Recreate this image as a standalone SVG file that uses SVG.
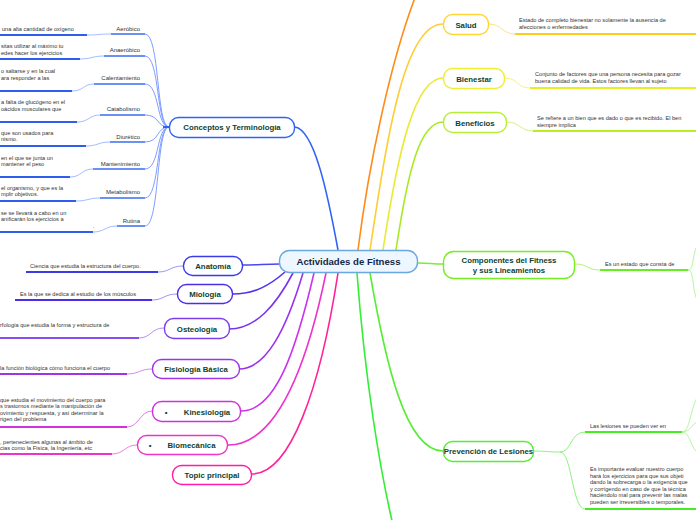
<svg xmlns="http://www.w3.org/2000/svg" width="696" height="520" viewBox="0 0 696 520">
<style>
text{font-family:"Liberation Sans",Arial,sans-serif}
.d{font-size:5.6px;fill:#333}
.s{font-size:6px;fill:#333}
.n{font-size:7.8px;font-weight:bold;fill:#0e3f30;text-anchor:middle}
.box{fill:#fff;stroke-width:1.4}
.c{fill:none;stroke-width:1.6}
.t{fill:none;stroke-width:0.9}
.u{fill:none;stroke-width:2}
.su{fill:none;stroke-width:1.5}
</style>
<rect width="696" height="520" fill="#fff"/>
<g id="connectors">
<path class="c" stroke="#2f63f5" d="M338,250 C327,190 314,130 295,127"/>
<path class="c" stroke="#ff8c1a" d="M358,250 C368,170 390,60 418,-10"/>
<path class="c" stroke="#ffcc33" d="M370,250 C388,130 405,24 443,24"/>
<path class="c" stroke="#e8ea33" d="M383,250 C398,150 415,78 443,78"/>
<path class="c" stroke="#a8ea22" d="M396,250 C408,170 420,122 443,122"/>
<path class="c" stroke="#7aee33" d="M418,263 C428,263 433,264 443,264"/>
<path class="c" stroke="#55ee33" d="M370,273 C385,360 405,451 443,451"/>
<path class="c" stroke="#33ee33" d="M357,273 C365,380 380,470 393,525"/>
<path class="c" stroke="#4848f0" d="M280,264 C265,264 258,265 243,265"/>
<path class="c" stroke="#5533ee" d="M285,272 C270,285 255,294 233,294"/>
<path class="c" stroke="#7a33ee" d="M293,273 C276,305 256,329 229,329"/>
<path class="c" stroke="#9b33ee" d="M303,273 C286,330 266,369 239,369"/>
<path class="c" stroke="#cc33ee" d="M314,273 C296,350 276,411 241,411"/>
<path class="c" stroke="#ee33cc" d="M326,273 C306,370 276,445 228,445"/>
<path class="c" stroke="#ff2299" d="M338,273 C320,390 290,474 252,474"/>
<g stroke="#6f92ff" class="t">
<path d="M145,34 C160,34 156,127 169,127"/>
<path d="M145,56 C160,56 156,127 169,127"/>
<path d="M145,84 C160,84 156,127 169,127"/>
<path d="M145,115 C160,115 156,127 169,127"/>
<path d="M145,142 C160,142 156,127 169,127"/>
<path d="M145,169 C160,169 156,127 169,127"/>
<path d="M145,198 C160,198 156,127 169,127"/>
<path d="M145,226 C160,226 156,127 169,127"/>
</g>
<path d="M163,127 L169,127" stroke="#2f63f5" stroke-width="2"/>
<g stroke="#9ab4ff" class="t">
<path d="M87,35 C99,35 99,34 111,34"/>
<path d="M80,59 C92,59 92,56 104,56"/>
<path d="M72,91 C84,91 83,84 94,84"/>
<path d="M77,122 C89,122 89,115 100,115"/>
<path d="M86,146 C98,146 98,142 110,142"/>
<path d="M70,177 C82,177 81,169 93,169"/>
<path d="M76,201 C88,201 88,198 100,198"/>
<path d="M93,232 C105,232 105,226 117,226"/>
</g>
<path class="t" stroke="#8d8df5" d="M158,272 C170,272 170,266 183,266"/>
<path class="t" stroke="#9a85f5" d="M152,300 C164,300 164,294 177,294"/>
<path class="t" stroke="#b080f5" d="M139,338 C151,338 151,328 164,328"/>
<path class="t" stroke="#c880f0" d="M127,374 C139,374 140,369 152,369"/>
<path class="t" stroke="#e070e8" d="M127,427 C139,427 140,411 152,411"/>
<path class="t" stroke="#f070d8" d="M112,454 C124,454 125,445 137,445"/>
<path class="t" stroke="#ffe070" d="M489,24 C502,24 502,34 515,34"/>
<path class="t" stroke="#f0f070" d="M505,78 C518,78 517,88 530,88"/>
<path class="t" stroke="#cdf070" d="M507,122 C520,122 520,131 533,131"/>
<path class="t" stroke="#a8f070" d="M575,264 C588,264 587,270 600,270"/>
<path class="t" stroke="#a8f590" d="M688,270 C694,270 692,256 697,246"/>
<path class="t" stroke="#a8f590" d="M688,270 C694,270 692,288 697,300"/>
<path class="t" stroke="#80f070" d="M533,451 C546,451 548,452 560,452 C572,452 570,432 585,432"/>
<path class="t" stroke="#80f070" d="M560,452 C572,452 572,509 585,509"/>
<path class="t" stroke="#a8f590" d="M682,432 C690,432 690,410 697,398"/>
<path class="t" stroke="#a8f590" d="M682,432 C690,432 691,425 697,422"/>
<path class="t" stroke="#a8f590" d="M682,432 C690,432 690,446 697,452"/>
</g>
<g id="central">
<rect x="279.5" y="250.5" width="138" height="22" rx="10" fill="#eef6ff" stroke="#6aa8e0" stroke-width="1.4"/>
<text x="348.5" y="265" text-anchor="middle" font-size="9.6" font-weight="bold" fill="#14284a">Actividades de Fitness</text>
</g>
<g id="conceptos">
<rect class="box" x="169.5" y="117.5" width="125" height="20" rx="9" stroke="#2f63f5"/>
<text class="n" x="232" y="130">Conceptos y Terminología</text>
</g>
<g id="aerobico">
<text class="s" x="140" y="31" text-anchor="end">Aeróbico</text>
<path class="su" stroke="#3a6cf2" d="M111,34 H145"/>
<text class="d" x="2" y="31">una alta cantidad de oxígeno</text>
<path class="u" stroke="#2d5ef0" d="M0,35 H87"/>
</g>
<g id="anaerobico">
<text class="s" x="140" y="52" text-anchor="end">Anaeróbico</text>
<path class="su" stroke="#3a6cf2" d="M104,56 H145"/>
<text class="d" x="1" y="48">sitas utilizar al máximo tu</text>
<text class="d" x="1" y="54.5">edes hacer los ejercicios</text>
<path class="u" stroke="#2d5ef0" d="M0,59 H80"/>
</g>
<g id="calentamiento">
<text class="s" x="140" y="80" text-anchor="end">Calentamiento</text>
<path class="su" stroke="#3a6cf2" d="M94,84 H145"/>
<text class="d" x="1" y="73">o saltarse y en la cual</text>
<text class="d" x="1" y="79.5">ara responder a las</text>
<path class="u" stroke="#2d5ef0" d="M0,91 H72"/>
</g>
<g id="catabolismo">
<text class="s" x="140" y="111" text-anchor="end">Catabolismo</text>
<path class="su" stroke="#3a6cf2" d="M100,115 H145"/>
<text class="d" x="1" y="104">a falta de glucógeno en el</text>
<text class="d" x="1" y="110.5">oácidos musculares que</text>
<path class="u" stroke="#2d5ef0" d="M0,122 H77"/>
</g>
<g id="diuretico">
<text class="s" x="140" y="139" text-anchor="end">Diurético</text>
<path class="su" stroke="#3a6cf2" d="M110,142 H145"/>
<text class="d" x="1" y="134.5">que son usados para</text>
<text class="d" x="1" y="141">nismo.</text>
<path class="u" stroke="#2d5ef0" d="M0,146 H86"/>
</g>
<g id="mantenimiento">
<text class="s" x="140" y="165.5" text-anchor="end">Mantenimiento</text>
<path class="su" stroke="#3a6cf2" d="M93,169 H145"/>
<text class="d" x="1" y="159.5">en el que se junta un</text>
<text class="d" x="1" y="166">mantener el peso</text>
<path class="u" stroke="#2d5ef0" d="M0,177 H70"/>
</g>
<g id="metabolismo">
<text class="s" x="140" y="194" text-anchor="end">Metabolismo</text>
<path class="su" stroke="#3a6cf2" d="M100,198 H145"/>
<text class="d" x="1" y="189.5">el organismo, y que es la</text>
<text class="d" x="1" y="196">mplir objetivos.</text>
<path class="u" stroke="#2d5ef0" d="M0,201 H76"/>
</g>
<g id="rutina">
<text class="s" x="140" y="222.5" text-anchor="end">Rutina</text>
<path class="su" stroke="#3a6cf2" d="M117,226 H145"/>
<text class="d" x="1" y="214.5">se se llevará a cabo en un</text>
<text class="d" x="1" y="221">anificarán los ejercicios a</text>
<text class="d" x="93" y="228">.</text>
<path class="u" stroke="#2d5ef0" d="M0,232 H93"/>
</g>
<g id="anatomia">
<rect class="box" x="183.5" y="256.5" width="59" height="19" rx="9" stroke="#3a3ae8"/>
<text class="n" x="213" y="269">Anatomía</text>
<text class="d" x="30" y="268">Ciencia que estudia la estructura del cuerpo.</text>
<path class="u" stroke="#3a3ae8" d="M26,272 H158"/>
</g>
<g id="miologia">
<rect class="box" x="177.5" y="284.5" width="55" height="19" rx="9" stroke="#4b2ee8"/>
<text class="n" x="205" y="297">Miología</text>
<text class="d" x="20" y="296">Es la que se dedica al estudio de los músculos</text>
<path class="u" stroke="#4b2ee8" d="M15,300 H152"/>
</g>
<g id="osteologia">
<rect class="box" x="164.5" y="318.5" width="65" height="20" rx="9" stroke="#7b3ee8"/>
<text class="n" x="197" y="331.5">Osteología</text>
<text class="d" x="0" y="327">rfología que estudia la forma y estructura de</text>
<path class="u" stroke="#8a4ef0" d="M0,338 H139"/>
</g>
<g id="fisiologia">
<rect class="box" x="152.5" y="359.5" width="87" height="19" rx="9" stroke="#a033e6"/>
<text class="n" x="196" y="372">Fisiología Básica</text>
<text class="d" x="0" y="370">la función biológica cómo funciona el cuerpo</text>
<path class="u" stroke="#a033e6" d="M0,374 H127"/>
</g>
<g id="kinesiologia">
<rect class="box" x="152.5" y="401.5" width="88" height="20" rx="9" stroke="#d030e0"/>
<text class="n" x="166" y="414.5">•</text>
<text class="n" x="207" y="414.5">Kinesiología</text>
<text class="d" x="0" y="401.5">que estudia el movimiento del cuerpo para</text>
<text class="d" x="0" y="408">s trastornos mediante la manipulación de</text>
<text class="d" x="0" y="414.5">ovimiento y respuesta, y así determinar la</text>
<text class="d" x="0" y="421">rigen del problema</text>
<path class="u" stroke="#d030e0" d="M0,427 H127"/>
</g>
<g id="biomecanica">
<rect class="box" x="137.5" y="435.5" width="90" height="19" rx="9" stroke="#ee33cc"/>
<text class="n" x="150" y="448">•</text>
<text class="n" x="191.5" y="448">Biomecánica</text>
<text class="d" x="0" y="443.5">, pertenecientes algunas al ámbito de</text>
<text class="d" x="0" y="450">cias como la Física, la Ingeniería, etc</text>
<path class="u" stroke="#ee33cc" d="M0,454 H112"/>
</g>
<g id="topic">
<rect class="box" x="172.5" y="465.5" width="79" height="19" rx="9" stroke="#ff1aa8"/>
<text class="n" x="212" y="478">Topic principal</text>
</g>
<g id="salud">
<rect class="box" x="443.5" y="14.5" width="45" height="20" rx="9" stroke="#ffd633"/>
<text class="n" x="466" y="27.5">Salud</text>
<text class="d" x="519" y="22">Estado de completo bienestar no solamente la ausencia de</text>
<text class="d" x="519" y="28.5">afecciones o enfermedades</text>
<path class="u" stroke="#ffcc1a" d="M515,34 H696"/>
</g>
<g id="bienestar">
<rect class="box" x="443.5" y="68.5" width="61" height="20" rx="9" stroke="#eeee33"/>
<text class="n" x="474" y="81.5">Bienestar</text>
<text class="d" x="535" y="76">Conjunto de factores que una persona necesita para gozar</text>
<text class="d" x="535" y="82.5">buena calidad de vida. Estos factores llevan al sujeto</text>
<path class="u" stroke="#e6ee22" d="M530,88 H696"/>
</g>
<g id="beneficios">
<rect class="box" x="443.5" y="112.5" width="63" height="20" rx="9" stroke="#b8ee33"/>
<text class="n" x="475" y="125.5">Beneficios</text>
<text class="d" x="537" y="120">Se refiere a un bien que es dado o que es recibido. El ben</text>
<text class="d" x="537" y="126.5">siempre implica</text>
<path class="u" stroke="#b8ee22" d="M533,131 H696"/>
</g>
<g id="componentes">
<rect class="box" x="443.5" y="251.5" width="131" height="27" rx="10" stroke="#77ee22"/>
<text class="n" x="509" y="262.5">Componentes del Fitness</text>
<text class="n" x="509" y="272.5">y sus Lineamientos</text>
<text class="d" x="605" y="266">Es un estado que consta de</text>
<path class="u" stroke="#66ee22" d="M600,270 H688"/>
</g>
<g id="prevencion">
<rect class="box" x="443.5" y="441.5" width="90" height="20" rx="9" stroke="#55ee33"/>
<text class="n" x="488.5" y="454.2" font-size="6.7">Prevención de Lesiones</text>
<text class="d" x="590" y="428">Las lesiones se pueden ver en</text>
<path class="u" stroke="#44ee22" d="M585,432 H682"/>
<text class="d" x="590" y="471">Es importante evaluar nuestro cuerpo</text>
<text class="d" x="590" y="477.5">hará los ejercicios para que sus objeti</text>
<text class="d" x="590" y="484">dando la sobrecarga o la exigencia que</text>
<text class="d" x="590" y="490.5">y corrigendo en caso de que la técnica</text>
<text class="d" x="590" y="497">haciéndolo mal para prevenir las malas</text>
<text class="d" x="590" y="503.5">pueden ser irreversibles o temporales.</text>
<path class="u" stroke="#44ee22" d="M585,509 H696"/>
</g>
</svg>
